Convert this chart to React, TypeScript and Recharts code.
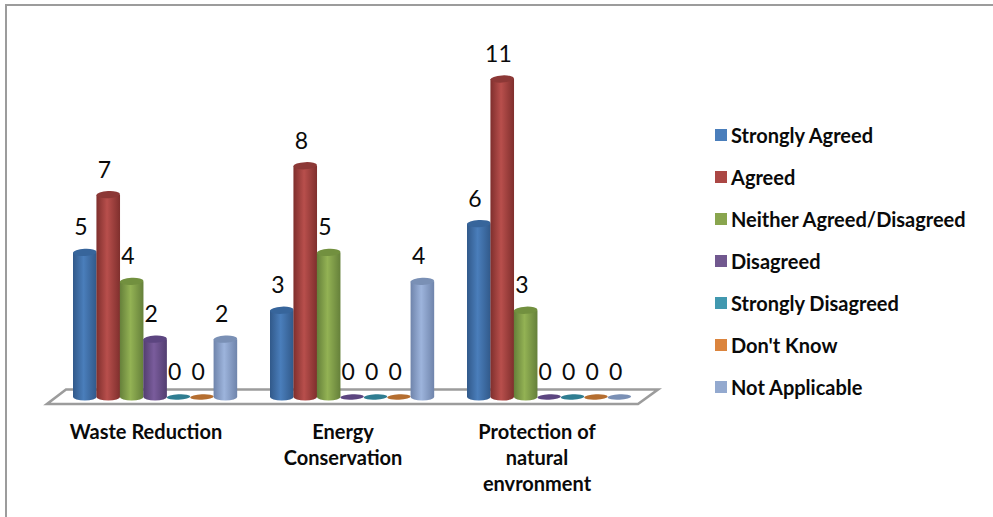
import { Bar, BarChart, LabelList, Legend, XAxis, YAxis, usePlotArea } from 'recharts'

// survey answers per topic
const topics = ['Waste Reduction', 'Energy Conservation', 'Protection of natural envronment']
const topicLines = [['Waste Reduction'], ['Energy', 'Conservation'], ['Protection of', 'natural', 'envronment']]
const topicShift = [-9, -9, -12]

const stronglyAgreed = [5, 3, 6]
const agreed = [7, 8, 11]
const neither = [4, 5, 3]
const disagreed = [2, 0, 0]
const stronglyDisagreed = [0, 0, 0]
const dontKnow = [0, 0, 0]
const notApplicable = [2, 4, 0]

const seriesNames = [
  'Strongly Agreed',
  'Agreed',
  'Neither Agreed/Disagreed',
  'Disagreed',
  'Strongly Disagreed',
  "Don't Know",
  'Not Applicable',
]
const seriesValues = [stronglyAgreed, agreed, neither, disagreed, stronglyDisagreed, dontKnow, notApplicable]

const mainColors = ['#4a7ebb', '#b84f4c', '#93b254', '#7a5c9c', '#3b97b0', '#e08a3c', '#9db4dc']
const edgeColors = ['#31598a', '#7f2f2d', '#65803a', '#523e70', '#2b6f82', '#a8652b', '#6f84ab']
const capColors = ['#37659b', '#8c3836', '#72903f', '#5c4580', '#2f7d91', '#b56e30', '#7a90b5']
const legendColors = ['#4a7ebb', '#ab4744', '#89a54e', '#71588f', '#4198af', '#db843d', '#93a9cf']

const FONT = 'Lato, "Open Sans", sans-serif'

const chartData = topics.map((topic, i) => {
  const row: Record<string, string | number> = { topic }
  seriesNames.forEach((name, s) => {
    row[name] = seriesValues[s][i]
  })
  return row
})

// bar widths get floored by the library, so each cylinder is widened to close the gap
const cylinder = (series: number) =>
  function Cylinder({ x, y, width, height }: any) {
    const w = width + 0.6
    const rx = w / 2
    const bottom = y + height
    if (height <= 0) {
      return (
        <ellipse
          cx={x + rx}
          cy={bottom}
          rx={rx}
          ry={2.7}
          fill={capColors[series]}
          transform={`rotate(-3 ${x + rx} ${bottom})`}
        />
      )
    }
    return (
      <g>
        <path
          d={`M${x},${y} L${x},${bottom} A${rx},3.5 0 0 0 ${x + w},${bottom} L${x + w},${y} Z`}
          fill={`url(#cyl-${series})`}
        />
        <ellipse
          cx={x + rx}
          cy={y}
          rx={rx}
          ry={3.6}
          fill={capColors[series]}
          transform={`rotate(-3 ${x + rx} ${y})`}
        />
      </g>
    )
  }

function Floor() {
  const plot = usePlotArea()
  if (!plot) return null
  const left = plot.x
  const right = plot.x + plot.width
  const base = plot.y + plot.height
  const pts = [
    [left + 9.5, base - 7.5],
    [right + 10.5, base - 7.5],
    [right - 9.5, base + 7],
    [left - 9.5, base + 7],
  ]
  return <polygon points={pts.map((p) => p.join(',')).join(' ')} fill="#fff" stroke="#9c9c9c" strokeWidth={2.6} />
}

function TopicTick({ x, y, index }: any) {
  return (
    <text textAnchor="middle" fontFamily={FONT} fontWeight={700} fontSize={20} fill="#0a0a0a">
      {topicLines[index].map((line, i) => (
        <tspan key={line} x={x + topicShift[index]} y={y + 34 + i * 26}>
          {line}
        </tspan>
      ))}
    </text>
  )
}

function ValueLabel({ x, y, width, value }: any) {
  return (
    <text
      x={x + width / 2 - 3.5}
      y={y - 17}
      textAnchor="middle"
      fontFamily={FONT}
      fontSize={23}
      fill="#0a0a0a"
    >
      {value}
    </text>
  )
}

function SeriesLegend() {
  return (
    <div style={{ fontFamily: FONT, fontWeight: 700, fontSize: 20, color: '#0a0a0a' }}>
      {seriesNames.map((name, i) => (
        <div key={name} style={{ height: 42, display: 'flex', alignItems: 'center', whiteSpace: 'nowrap' }}>
          <span style={{ width: 12, height: 12, background: legendColors[i], marginRight: 4, flex: 'none' }} />
          {name}
        </div>
      ))}
    </div>
  )
}

export default function App() {
  return (
    <div style={{ position: 'relative', width: 993, height: 517, background: '#fff', overflow: 'hidden' }}>
      <style>{'body{margin:0}'}</style>
      <div
        style={{
          position: 'absolute',
          left: 5,
          top: 4,
          right: 0,
          bottom: 0,
          borderTop: '2px solid #9c9c9c',
          borderLeft: '2px solid #9c9c9c',
        }}
      />
      <div style={{ position: 'absolute', left: 0, top: 0 }}>
        <BarChart
          width={993}
          height={517}
          data={chartData}
          barGap={0.43}
          barCategoryGap={16.5}
          margin={{ top: 79, right: 75.5, bottom: 0, left: 56.5 }}
        >
          <defs>
            {mainColors.map((c, i) => (
              <linearGradient key={c} id={`cyl-${i}`} x1="0" y1="0" x2="1" y2="0">
                <stop offset="0%" stopColor={edgeColors[i]} />
                <stop offset="45%" stopColor={c} />
                <stop offset="100%" stopColor={edgeColors[i]} />
              </linearGradient>
            ))}
          </defs>
          <Floor />
          <XAxis dataKey="topic" height={120} axisLine={false} tickLine={false} interval={0} tick={TopicTick} />
          <YAxis hide domain={[0, 11]} />
          <Legend
            layout="vertical"
            align="right"
            verticalAlign="middle"
            width={270}
            content={SeriesLegend}
            wrapperStyle={{ left: 715, top: 114, width: 270 }}
          />
          {seriesNames.map((name, s) => (
            <Bar key={name} dataKey={name} shape={cylinder(s)} isAnimationActive={false}>
              <LabelList dataKey={name} content={ValueLabel} />
            </Bar>
          ))}
        </BarChart>
      </div>
    </div>
  )
}
